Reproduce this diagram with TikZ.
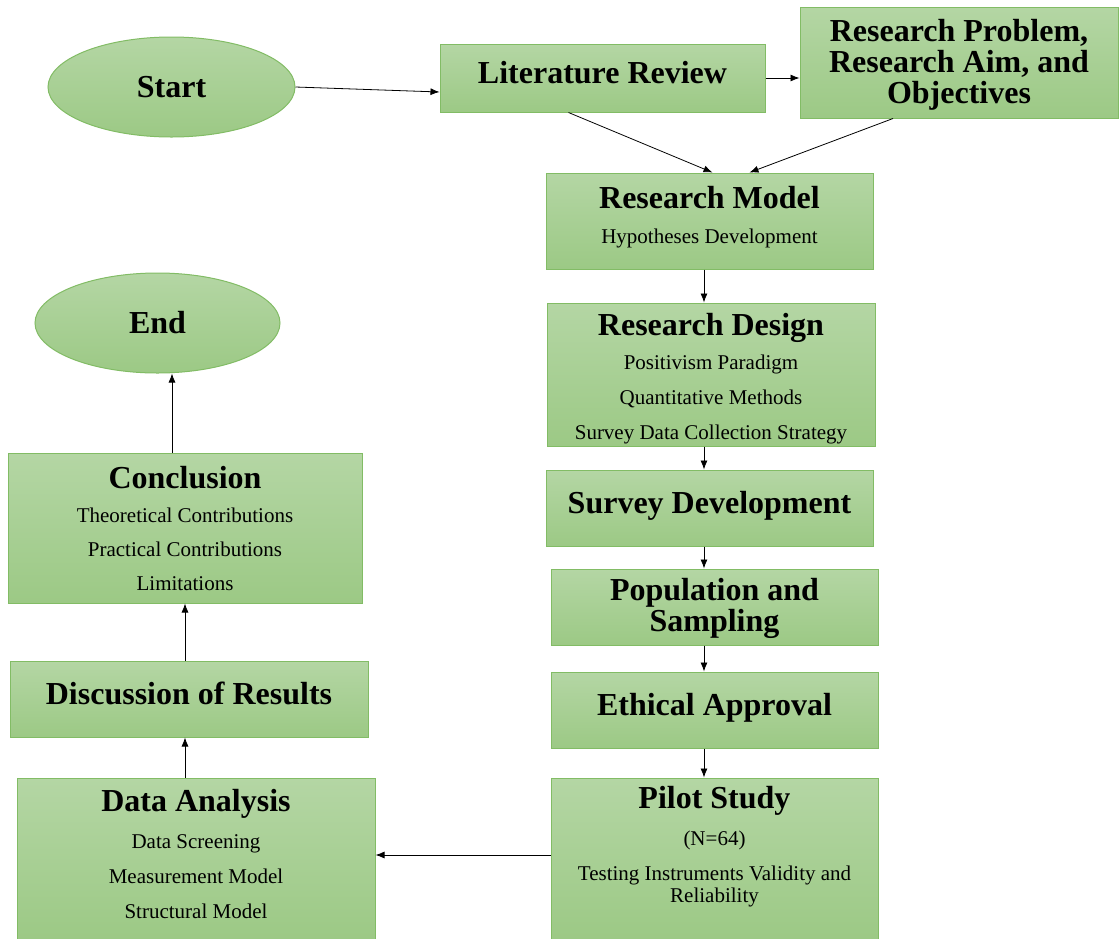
\documentclass[tikz,border=0pt]{standalone}
\usepackage{fontspec}
\setmainfont{Liberation Serif}
\usepackage{tikz}
\usetikzlibrary{shapes.geometric, arrows.meta, positioning, calc}
\usepackage{xcolor}

\definecolor{boxtop}{HTML}{B4D6A4}
\definecolor{boxbot}{HTML}{9CC985}
\definecolor{boxline}{HTML}{82BC65}
\newcommand{\headfont}{\fontsize{32}{31}\selectfont\bfseries}
\newcommand{\itemfont}{\fontsize{21}{35}\selectfont}

\begin{document}
\begin{tikzpicture}[
    x=1pt,
    y=-1pt,
    stepbox/.style={rectangle, draw=boxline, line width=1pt, top color=boxtop, bottom color=boxbot, align=center, inner sep=0pt, font=\itemfont},
    headbox/.style={stepbox, font=\headfont, text depth=12pt},
    endpoint/.style={ellipse, draw=boxline, line width=1pt, top color=boxtop, bottom color=boxbot, inner sep=0pt, font=\headfont},
    flow/.style={-{Latex[length=9pt,width=7pt]}, line width=0.8pt}
]
\useasboundingbox (0,0) rectangle (1120,938);

% Axes of the two columns
\coordinate (raxis) at (704,0);
\coordinate (laxis) at (185,0);
\coordinate (eaxis) at (172,0);

% Top row
\node [endpoint, minimum width=247, minimum height=100] (start) at (171.5,87) {Start};
\node [headbox, minimum width=325, minimum height=68] (lit) at (602.5,78) {Literature Review};
\node [stepbox, minimum width=318, minimum height=111, font=\headfont, text depth=3pt] (problem) at (959,62.5) {Research Problem,\\Research Aim, and\\Objectives};

% Right column
\node [stepbox, minimum width=327, minimum height=96, text depth=12pt] (model) at (709.5,221) {{\headfont Research Model}\\[0pt]Hypotheses Development};
\node [stepbox, minimum width=328, minimum height=143] (design) at (711,374.5) {{\headfont\rule{0pt}{30pt}Research Design}\\[-1pt]Positivism Paradigm\\Quantitative Methods\\Survey Data Collection Strategy};
\node [headbox, minimum width=327, minimum height=76] (survey) at (709.5,508) {Survey Development};
\node [stepbox, minimum width=327, minimum height=76, font=\headfont, text depth=4pt] (sampling) at (714.5,607) {Population and\\Sampling};
\node [headbox, minimum width=327, minimum height=76] (ethics) at (714.5,710) {Ethical Approval};
\node [stepbox, minimum width=327, minimum height=162, text depth=29pt] (pilot) at (714.5,859) {{\headfont Pilot Study}\\[2pt](N=64)\\Testing Instruments Validity and\\[-13pt]Reliability};

% Left column
\node [stepbox, minimum width=358, minimum height=162, text depth=11pt] (analysis) at (196,859) {{\headfont Data Analysis}\\[2pt]Data Screening\\Measurement Model\\Structural Model};
\node [headbox, minimum width=358, minimum height=76] (discussion) at (189,699) {Discussion of Results};
\node [stepbox, minimum width=354, minimum height=150] (conclusion) at (185,528) {{\headfont Conclusion}\\[-1pt]Theoretical Contributions\\[-1pt]Practical Contributions\\[-1pt]Limitations};
\node [endpoint, minimum width=245, minimum height=100] (end) at (157.5,323) {End};

% Connectors
\draw[flow] (start.east) -- ([yshift=-14pt]lit.west);
\draw[flow] (lit.east) -- (lit.east -| problem.west);
\draw[flow] ([xshift=-34pt]lit.south) -- ([xshift=3pt]model.north);
\draw[flow] ([xshift=-66pt]problem.south) -- ([xshift=40pt]model.north);
\draw[flow] (model.south -| raxis) -- (design.north -| raxis);
\draw[flow] (design.south -| raxis) -- (survey.north -| raxis);
\draw[flow] (survey.south -| raxis) -- (sampling.north -| raxis);
\draw[flow] (sampling.south -| raxis) -- (ethics.north -| raxis);
\draw[flow] (ethics.south -| raxis) -- (pilot.north -| raxis);
\draw[flow] ([yshift=4pt]pilot.west) -- ([yshift=4pt]pilot.west -| analysis.east);
\draw[flow] (analysis.north -| laxis) -- (discussion.south -| laxis);
\draw[flow] (discussion.north -| laxis) -- (conclusion.south -| laxis);
\draw[flow] (conclusion.north -| eaxis) -- (end.south -| eaxis);

\end{tikzpicture}
\end{document}
